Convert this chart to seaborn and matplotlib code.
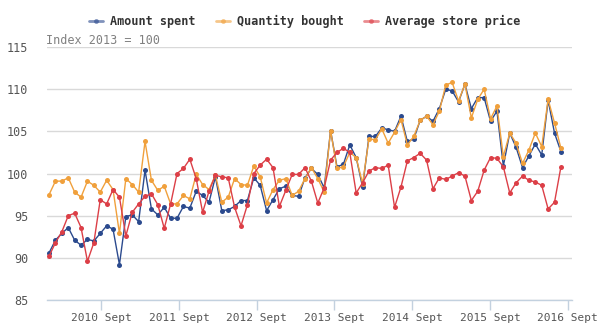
import numpy as np
import pandas as pd
import matplotlib
matplotlib.use("Agg")
import matplotlib.pyplot as plt
import seaborn as sns
from matplotlib.lines import Line2D

# Monthly, Jan 2010 .. Sept 2016
amount_spent = [
    90.6, 92.1, 92.9, 93.6, 92.1, 91.5, 92.2, 92.0, 92.9, 93.8, 93.4, 89.2,
    94.9, 95.1, 94.3, 100.4, 95.8, 95.1, 96.0, 94.7, 94.7, 96.1, 95.9, 97.9,
    97.4, 96.6, 99.6, 95.6, 95.7, 96.1, 96.8, 96.8, 99.5, 98.6, 95.6, 96.9,
    98.2, 98.5, 97.4, 97.3, 99.5, 100.6, 99.9, 98.3, 105.1, 100.8, 101.1, 103.4,
    101.9, 98.4, 104.4, 104.4, 105.4, 105.2, 105.0, 106.8, 103.8, 104.1, 106.3, 106.8,
    106.2, 107.7, 110.0, 109.8, 108.5, 110.6, 107.7, 109.0, 109.0, 106.2, 107.4, 100.9,
    104.8, 103.1, 100.7, 102.1, 103.5, 102.2, 108.7, 104.8, 102.6,
]
quantity_bought = [
    97.5, 99.1, 99.1, 99.5, 97.8, 97.2, 99.1, 98.6, 97.8, 99.2, 98.1, 92.9,
    99.4, 98.7, 97.8, 103.8, 99.2, 98.0, 98.5, 96.4, 96.4, 97.4, 97.0, 99.9,
    98.7, 98.1, 99.8, 96.6, 97.2, 99.4, 98.7, 98.6, 100.9, 99.6, 96.5, 98.1,
    99.2, 99.4, 97.4, 97.9, 99.4, 100.7, 99.4, 97.8, 105.1, 100.6, 100.8, 102.5,
    101.9, 98.8, 104.1, 104.0, 105.3, 103.6, 104.9, 106.4, 103.4, 104.4, 106.3, 106.8,
    105.8, 107.4, 110.5, 110.8, 108.6, 110.6, 106.6, 108.8, 110.0, 106.5, 108.0, 102.0,
    104.8, 103.6, 101.2, 102.8, 104.8, 103.2, 108.8, 106.0, 103.0,
]
average_store_price = [
    90.2, 91.8, 93.1, 95.0, 95.3, 93.6, 89.6, 91.8, 96.9, 96.4, 98.1, 97.2,
    92.6, 95.4, 96.4, 97.3, 97.6, 96.3, 93.5, 96.4, 100.0, 100.6, 101.7, 99.4,
    95.4, 97.9, 99.8, 99.6, 99.5, 96.0, 93.8, 96.3, 100.0, 101.0, 101.7, 100.7,
    96.1, 98.0, 99.9, 99.9, 100.7, 99.1, 96.5, 98.3, 101.6, 102.5, 103.0, 102.5,
    97.7, 98.9, 100.3, 100.7, 100.6, 101.0, 96.0, 98.4, 101.5, 101.9, 102.4, 101.6,
    98.2, 99.5, 99.3, 99.7, 100.1, 99.7, 96.8, 97.9, 100.4, 101.9, 101.8, 100.8,
    97.7, 98.9, 99.7, 99.2, 99.0, 98.6, 95.8, 96.6, 100.8,
]
series_names = ["Amount spent", "Quantity bought", "Average store price"]
colors = ["#2b4a8e", "#f0a03c", "#dc3f47"]
tick_labels = ["2010 Sept", "2011 Sept", "2012 Sept", "2013 Sept",
               "2014 Sept", "2015 Sept", "2016 Sept"]
tick_months = [8, 20, 32, 44, 56, 68, 80]
y_ticks = [85, 90, 95, 100, 105, 110, 115]

n = len(amount_spent)
df = pd.DataFrame({
    "month": list(range(n)) * 3,
    "value": amount_spent + quantity_bought + average_store_price,
    "series": [series_names[0]] * n + [series_names[1]] * n + [series_names[2]] * n,
})

sns.set_theme(style="white")
plt.rcParams["font.family"] = ["DejaVu Sans Mono", "DejaVu Sans"]

fig = plt.figure(figsize=(6.0, 3.36), dpi=100)
ax = fig.add_axes([0.0775, 0.107, 0.8755, 0.753])

sns.lineplot(data=df, x="month", y="value", hue="series", hue_order=series_names,
             palette=colors, marker="o", markersize=3.6, markeredgewidth=0,
             linewidth=1.0, ax=ax, legend=False)

ax.set_xlim(-0.4, 81.7)
ax.set_ylim(85, 115)
ax.set_yticks(y_ticks)
ax.set_xticks([m + 0.15 * (k + 1) for k, m in enumerate(tick_months)])
ax.set_xticklabels(tick_labels)
ax.set_xlabel("")
ax.set_ylabel("")
ax.grid(axis="y", color="#d9d9d9", linewidth=1.0)
ax.grid(axis="x", visible=False)
for s in ["top", "right", "left"]:
    ax.spines[s].set_visible(False)
ax.spines["bottom"].set_color("#c3d1df")
ax.spines["bottom"].set_linewidth(1.0)
ax.spines["bottom"].set_zorder(3)
ax.tick_params(axis="x", length=7, width=1, color="#c3d1df", labelsize=8,
               labelcolor="#555555", pad=2, direction="out", bottom=True)
ax.tick_params(axis="y", length=0, labelsize=8.5, labelcolor="#555555", pad=13)
for lbl in ax.get_yticklabels():
    lbl.set_horizontalalignment("right")

ax.text(0.0, 1.0, "Index 2013 = 100", transform=ax.transAxes,
        fontsize=8.5, color="#808080", ha="left", va="bottom")

handles = [Line2D([0], [0], color=c, alpha=0.6, lw=2, marker="o", markersize=3.5,
                  markerfacecolor=c, markeredgewidth=0) for c in colors]
leg = fig.legend(handles, series_names, loc="center", bbox_to_anchor=(0.508, 0.935),
                 ncol=3, frameon=False, handlelength=1.2, handletextpad=0.6,
                 columnspacing=1.7, prop={"family": "DejaVu Sans Mono",
                                          "weight": "bold", "size": 8.5})
for t in leg.get_texts():
    t.set_color("#333333")

fig.savefig("out.png", dpi=100)
